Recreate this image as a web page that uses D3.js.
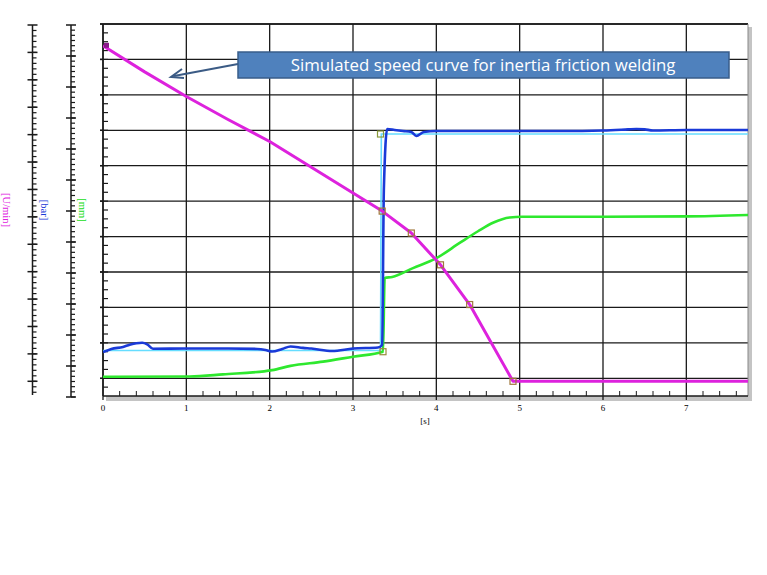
<!DOCTYPE html>
<html>
<head>
<meta charset="utf-8">
<script src="https://cdn.jsdelivr.net/npm/d3@7"></script>
<style>
  html, body { margin: 0; padding: 0; background: #ffffff; }
  svg { display: block; }
</style>
</head>
<body>
<svg id="chart" width="767" height="575"></svg>
<script>
// ---------------- DATA ----------------
const xTicks = [0, 1, 2, 3, 4, 5, 6, 7];
const xLabel = "[s]";

// speed [U/min] (magenta)
const speedT = [0, 0.5, 1, 1.5, 2, 2.5, 3, 3.35, 3.7, 4.05, 4.4, 4.92, 7.74];
const speedV = [1224, 1129, 1039, 955, 875, 781, 687, 621, 541, 425, 280, 0, 0];
const speedMarkerIdx = [7, 8, 9, 10, 11];

// pressure [bar] (blue, measured)
const pressT = [0, 0.1, 0.24, 0.32, 0.4, 0.47, 0.53, 0.6, 1, 1.5, 1.85, 1.95, 2.03, 2.15, 2.25, 2.4, 2.5, 2.75, 3, 3.3, 3.35, 3.37, 3.41, 3.5, 3.6, 3.7, 3.76, 3.85, 4, 4.5, 5, 5.5, 6, 6.3, 6.4, 6.5, 6.6, 7, 7.74];
const pressV = [43.5, 46.5, 48.5, 50.5, 52, 52.5, 51, 46.7, 46.9, 46.9, 46.5, 45.5, 44, 46.5, 48.9, 47.5, 46.9, 44.5, 46.9, 47.9, 50.3, 200, 259.4, 258.4, 257.4, 256.5, 252.6, 256.5, 257.4, 257.4, 257.4, 257.4, 257.9, 259, 259.4, 259, 257.9, 258.4, 258.4];

// pressure set value [bar] (cyan)
const setPressT = [0, 3.33, 3.34, 7.74];
const setPressV = [45, 45, 254.5, 254.5];

// displacement [mm] (green)
const dispT = [0, 1.04, 1.44, 2.03, 2.25, 2.64, 3.0, 3.36, 3.38, 3.47, 3.72, 4.0, 4.28, 4.5, 4.68, 4.88, 5.03, 6, 7, 7.74];
const dispV = [0.045, 0.05, 0.11, 0.23, 0.35, 0.47, 0.61, 0.75, 2.83, 2.86, 3.11, 3.39, 3.82, 4.15, 4.39, 4.54, 4.56, 4.56, 4.57, 4.61];

const annotationText = "Simulated speed curve for inertia friction welding";
const axisTitles = ["[U/min]", "[bar]", "[mm]"];

// ---------------- LAYOUT ----------------
const svg = d3.select("#chart");
const plot = { left: 103, right: 748, top: 24, bottom: 396 };

const x = d3.scaleLinear().domain([0, 7.74]).range([plot.left, plot.right]);
const ySpeed = d3.scaleLinear().domain([-50, 1300]).range([395, 25]);
const yPress = d3.scaleLinear().domain([0, 360]).range([397, 25]);
const yDisp = d3.scaleLinear().domain([-0.5, 10]).range([plot.bottom, plot.top]);

// shadow
svg.append("rect").attr("x", plot.left + 3).attr("y", plot.bottom).attr("width", plot.right - plot.left + 1).attr("height", 5).attr("fill", "#c4c4c4");
svg.append("rect").attr("x", plot.right).attr("y", plot.top + 3).attr("width", 4).attr("height", plot.bottom - plot.top + 2).attr("fill", "#c4c4c4");

// plot background
svg.append("rect").attr("x", plot.left).attr("y", plot.top).attr("width", plot.right - plot.left).attr("height", plot.bottom - plot.top).attr("fill", "#fff");

// grid
const gGrid = svg.append("g");
xTicks.forEach(t => {
  gGrid.append("line").attr("x1", x(t)).attr("x2", x(t)).attr("y1", plot.top).attr("y2", plot.bottom + 4)
    .attr("stroke", "#1a1a1a").attr("stroke-width", 1.3);
});
d3.range(0, 11, 1).forEach(v => {
  gGrid.append("line").attr("x1", plot.left - 3).attr("x2", plot.right).attr("y1", yDisp(v)).attr("y2", yDisp(v))
    .attr("stroke", "#1a1a1a").attr("stroke-width", 1.3);
});
// border
svg.append("line").attr("x1", plot.left).attr("x2", plot.right).attr("y1", plot.top).attr("y2", plot.top).attr("stroke", "#1a1a1a").attr("stroke-width", 1.3);
svg.append("line").attr("x1", plot.right).attr("x2", plot.right).attr("y1", plot.top).attr("y2", plot.bottom).attr("stroke", "#888").attr("stroke-width", 1);
svg.append("line").attr("x1", plot.left).attr("x2", plot.right).attr("y1", plot.bottom).attr("y2", plot.bottom).attr("stroke", "#1a1a1a").attr("stroke-width", 1.3);

// x minor ticks
d3.range(0, 7.74, 0.2).forEach(t => {
  if (Math.abs(t - Math.round(t)) < 1e-6) return;
  svg.append("line").attr("x1", x(t)).attr("x2", x(t)).attr("y1", plot.bottom).attr("y2", plot.bottom - 5)
    .attr("stroke", "#1a1a1a").attr("stroke-width", 1);
});
// x labels
xTicks.forEach(t => {
  svg.append("text").attr("x", x(t)).attr("y", 411).attr("text-anchor", "middle")
    .attr("font-family", "Liberation Serif, serif").attr("font-size", 9).attr("fill", "#000").text(t);
});
svg.append("text").attr("x", 425).attr("y", 424).attr("text-anchor", "middle")
  .attr("font-family", "Liberation Serif, serif").attr("font-size", 9).attr("fill", "#000").text(xLabel);

// left axes
function drawAxis(ax, scale, majors, minors, majorLeft, majorRight, minorRight) {
  const g = svg.append("g");
  const r = scale.range();
  g.append("line").attr("x1", ax).attr("x2", ax).attr("y1", Math.min(r[0], r[1])).attr("y2", Math.max(r[0], r[1]))
    .attr("stroke", "#1a1a1a").attr("stroke-width", 1.5);
  minors.forEach(v => {
    g.append("line").attr("x1", ax).attr("x2", ax + minorRight).attr("y1", scale(v)).attr("y2", scale(v))
      .attr("stroke", "#1a1a1a").attr("stroke-width", 1.2);
  });
  majors.forEach(v => {
    g.append("line").attr("x1", ax - majorLeft).attr("x2", ax + majorRight).attr("y1", scale(v)).attr("y2", scale(v))
      .attr("stroke", "#1a1a1a").attr("stroke-width", 1.5);
  });
}
drawAxis(32.5, ySpeed, d3.range(0, 1301, 100), d3.range(-40, 1300, 20), 5, 5, 4);
drawAxis(71, yPress, d3.range(0, 361, 30), d3.range(0, 360, 5), 5, 5, 4);
drawAxis(plot.left, yDisp, d3.range(0, 10.01, 1), d3.range(-0.25, 10, 0.25), 3, 0, 5);

// axis titles
const titleColors = ["#e020e0", "#1a3ad8", "#22dd22"];
const titleX = [5, 43, 81];
axisTitles.forEach((t, i) => {
  svg.append("text").attr("transform", `translate(${titleX[i]},210) rotate(90)`)
    .attr("text-anchor", "middle").attr("dominant-baseline", "middle")
    .attr("font-family", "Liberation Serif, serif").attr("font-size", 10.5).attr("fill", titleColors[i]).text(t);
});

// lines
svg.append("clipPath").attr("id", "clip").append("rect")
  .attr("x", plot.left).attr("y", plot.top).attr("width", plot.right - plot.left).attr("height", plot.bottom - plot.top);
const gData = svg.append("g").attr("clip-path", "url(#clip)");

function series(ts, vs, ys) { return ts.map((t, i) => [x(t), ys(vs[i])]); }
const line = d3.line();
const smooth = d3.line().curve(d3.curveMonotoneX);

gData.append("path").attr("d", line(series(setPressT, setPressV, yPress)))
  .attr("fill", "none").attr("stroke", "#66ddff").attr("stroke-width", 1.6);
gData.append("path").attr("d", smooth(series(dispT, dispV, yDisp)))
  .attr("fill", "none").attr("stroke", "#2ee82e").attr("stroke-width", 2.6).attr("stroke-linejoin", "round");
gData.append("path").attr("d", smooth(series(pressT, pressV, yPress)))
  .attr("fill", "none").attr("stroke", "#1a3ad8").attr("stroke-width", 2.6).attr("stroke-linejoin", "round");
gData.append("path").attr("d", line(series(speedT, speedV, ySpeed)))
  .attr("fill", "none").attr("stroke", "#dd22dd").attr("stroke-width", 3).attr("stroke-linejoin", "round");

// markers
const markers = speedMarkerIdx.map(i => [x(speedT[i]), ySpeed(speedV[i]), "#a0783c"]);
markers.push([x(dispT[7]), yDisp(dispV[7]), "#9a8a3c"]);
markers.push([x(setPressT[1]), yPress(setPressV[2]), "#8a9a3c"]);
markers.forEach(m => {
  gData.append("rect").attr("x", m[0] - 3).attr("y", m[1] - 3).attr("width", 6).attr("height", 6)
    .attr("fill", "none").attr("stroke", m[2]).attr("stroke-width", 1.2);
});
// start marker
gData.append("rect").attr("x", x(0) + 1).attr("y", ySpeed(speedV[0]) - 3).attr("width", 5).attr("height", 5).attr("fill", "#8a1a8a");

// annotation
const box = { x: 238, y: 52, w: 491, h: 26 };
svg.append("line").attr("x1", box.x).attr("y1", 64).attr("x2", 174).attr("y2", 76)
  .attr("stroke", "#3b5b85").attr("stroke-width", 2);
svg.append("path").attr("d", d3.line()([[182, 69], [171, 77], [184, 78]]))
  .attr("fill", "none").attr("stroke", "#3b5b85").attr("stroke-width", 2).attr("stroke-linejoin", "miter");
svg.append("rect").attr("x", box.x).attr("y", box.y).attr("width", box.w).attr("height", box.h)
  .attr("fill", "#4f81bd").attr("stroke", "#385d8a").attr("stroke-width", 1.5);
const ann = svg.append("text").attr("x", box.x + box.w / 2 - 0.5).attr("y", box.y + box.h / 2 + 1)
  .attr("text-anchor", "middle").attr("dominant-baseline", "middle")
  .attr("font-family", "Open Sans, Noto Sans, sans-serif").attr("font-size", 17).attr("fill", "#ffffff").text(annotationText);
const w = ann.node().getComputedTextLength();
ann.attr("font-size", 17 * 385 / w);
</script>
</body>
</html>
